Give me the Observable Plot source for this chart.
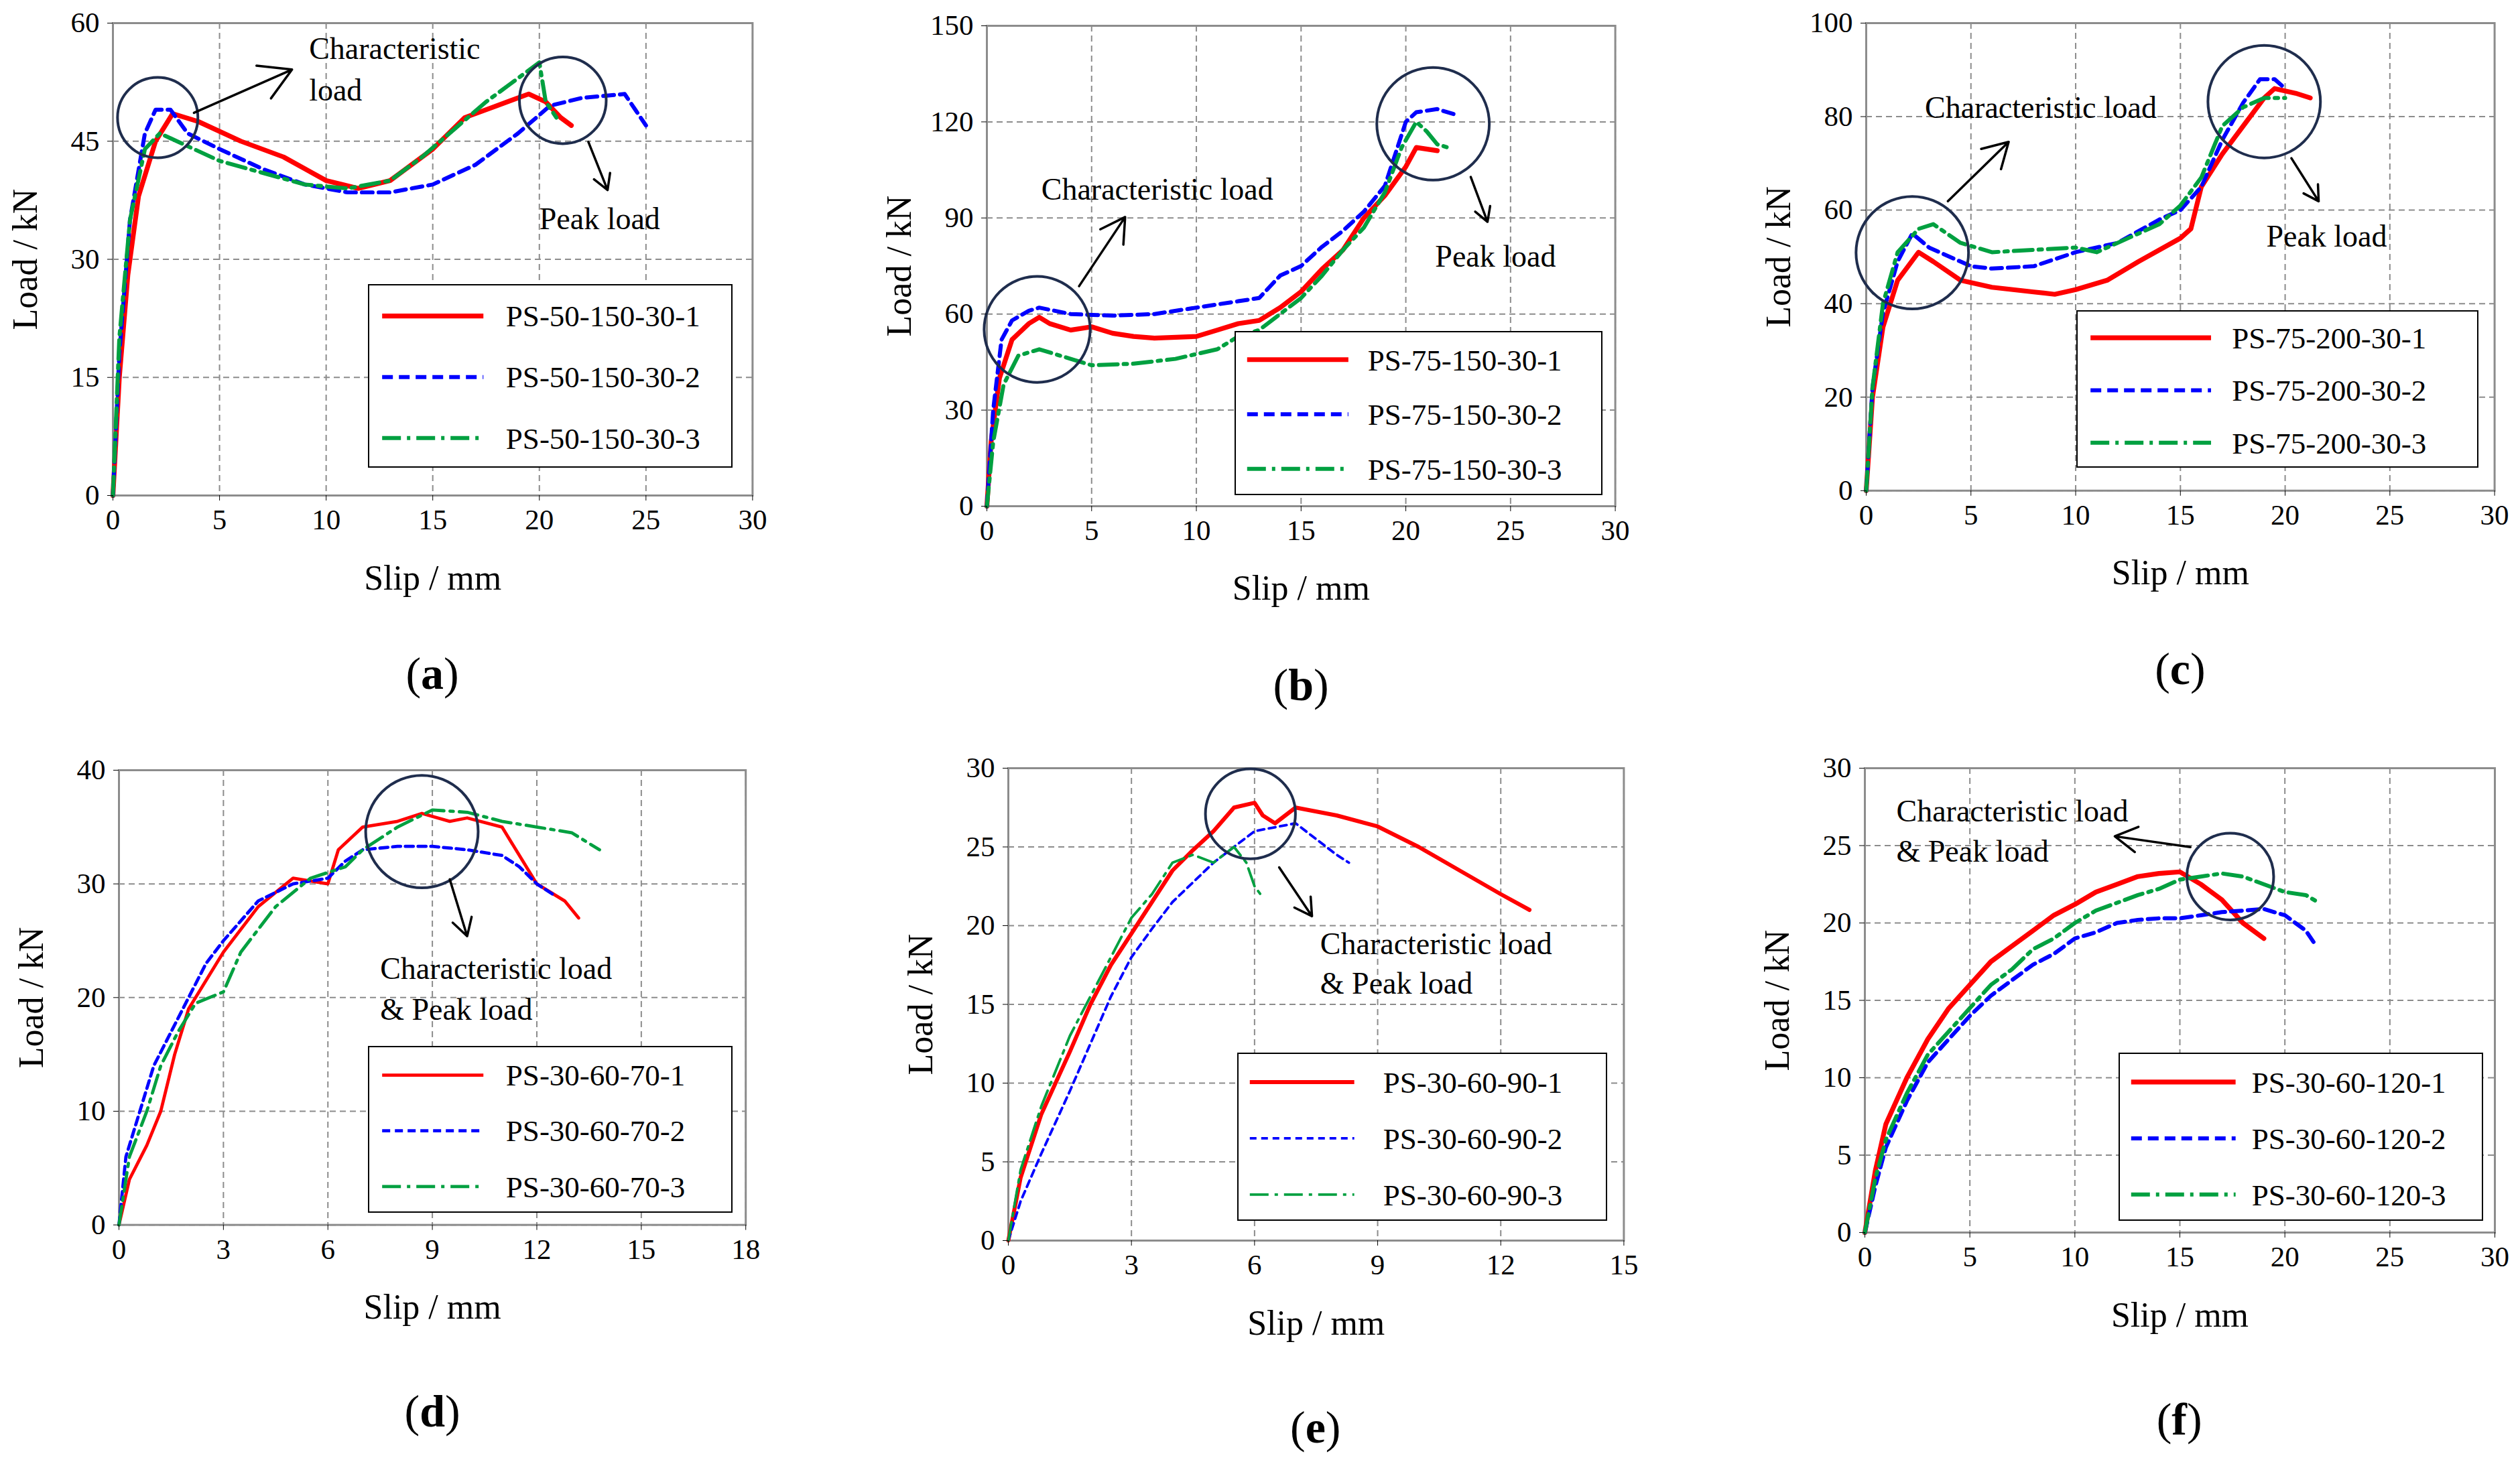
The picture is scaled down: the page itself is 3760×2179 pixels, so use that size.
<!DOCTYPE html>
<html><head><meta charset="utf-8">
<script src="https://cdn.jsdelivr.net/npm/d3@7"></script>
<script src="https://cdn.jsdelivr.net/npm/@observablehq/plot@0.6"></script>
<style>
body{margin:0;background:#fff;font-family:"Liberation Serif",serif;}
#root{position:relative;width:3760px;height:2179px;overflow:hidden;}
.pan{position:absolute;}
.leg{position:absolute;border:2.5px solid #000;background:#fff;box-sizing:border-box;}
.lab{position:absolute;font-size:68px;transform:translateX(-50%);}
</style></head><body><div id="root"></div>
<script>
const S = 2.398;
const seriesNames = {
 a:["PS-50-150-30-1","PS-50-150-30-2","PS-50-150-30-3"],
 b:["PS-75-150-30-1","PS-75-150-30-2","PS-75-150-30-3"],
 c:["PS-75-200-30-1","PS-75-200-30-2","PS-75-200-30-3"],
 d:["PS-30-60-70-1","PS-30-60-70-2","PS-30-60-70-3"],
 e:["PS-30-60-90-1","PS-30-60-90-2","PS-30-60-90-3"],
 f:["PS-30-60-120-1","PS-30-60-120-2","PS-30-60-120-3"]};
const a1=[[0,0],[0.3,15],[0.7,28],[1.2,38],[2,45],[2.8,48.5],[4,47.5],[6,45],[8,43],[10,40],[11.5,39],[13,40],[15,44],[16.5,48],[18,49.5],[19.5,51],[20.3,50],[21,48],[21.5,47]];
const a2=[[0,0],[0.3,18],[0.8,35],[1.5,46],[2,49],[2.7,49],[3.5,46],[5,44],[7,41.5],[9,39.5],[11,38.5],[13,38.5],[15,39.5],[17,42],[19,46],[20.5,49.5],[22,50.5],[24,51],[24.5,49],[25,47]];
const a3=[[0,0],[0.3,20],[0.8,35],[1.5,44],[2.2,46],[3,45],[5,42.5],[7,41],[9,39.5],[11,39],[13,40],[14.5,43],[16,46.5],[17.5,50],[19,53],[20,55],[20.3,50],[20.8,48]];
const b1=[[0,0],[0.2,20],[0.6,40],[1.2,52],[2,57],[2.5,59],[3,57],[4,55],[5,56],[6,54],[7,53],[8,52.5],[10,53],[11,55],[12,57],[13,58],[14,62],[15,67],[16,74],[17,80],[18,90],[19,97],[20,106],[20.5,112],[21.5,111]];
const b2=[[0,0],[0.3,30],[0.7,52],[1.2,58],[2,61],[2.5,62],[4,60],[6,59.5],[8,60],[10,62],[12,64],[13,65],[14,72],[15,75],[16,81],[17,86],[18,92],[19,100],[19.5,110],[20,120],[20.5,123],[21.5,124],[22.5,122]];
const b3=[[0,0],[0.3,20],[0.8,38],[1.5,47],[2.5,49],[4,46],[5,44],[7,44.5],[9,46],[11,49],[12,53],[13,55],[14,60],[15,65],[16,72],[17,80],[18,87],[19,98],[19.8,112],[20.5,120],[21,117],[21.5,113],[22,112]];
const c1=[[0,0],[0.3,20],[0.8,35],[1.5,45],[2.5,51],[3.2,49],[4.5,45],[6,43.5],[8,42.5],[9,42],[10,43],[11.5,45],[13,49],[15,54],[15.5,56],[16,65],[17,72],[18,78],[19,84],[19.5,86],[20.5,85],[21.2,84]];
const c2=[[0,0],[0.3,22],[0.8,38],[1.5,49],[2.2,55],[3,52],[4,50],[5,48],[6,47.5],[8,48],[10,51],[12,53],[14,58],[15,60],[16,65],[17,75],[18,83],[18.8,88],[19.5,88],[20,86]];
const c3=[[0,0],[0.3,22],[0.8,40],[1.5,51],[2.5,56],[3.2,57],[4.5,53],[6,51],[8,51.5],[10,52],[11,51],[12,53],[14,57],[15,61],[16,67],[17,78],[18,82],[19,84],[20,84]];
const d1=[[0,0],[0.3,4],[0.8,7],[1.2,10],[1.6,15],[2,19],[3,24],[4,28],[5,30.5],[6,30],[6.3,33],[7,35],[8,35.5],[8.7,36.2],[9.5,35.5],[10,35.8],[11,35],[12,30],[12.8,28.5],[13.2,27]];
const d2=[[0,0],[0.2,6],[0.6,10],[1,14],[1.5,17],[2,20],[2.5,23],[3,25],[4,28.5],[5,30],[6,30.5],[6.5,32],[7,33],[8,33.3],[9,33.3],[10,33],[11,32.5],[11.5,31.5],[12,30],[12.5,29]];
const d3_=[[0,0],[0.3,6],[0.8,10],[1.2,14],[1.7,17],[2.2,19.5],[3,20.5],[3.5,24],[4.5,28],[5.5,30.5],[6.5,31.5],[7,33],[8,35],[9,36.5],[10,36.3],[11,35.5],[12,35],[13,34.5],[13.8,33]];
const e1=[[0,0],[0.3,4],[0.8,8],[1.5,12],[2,15],[2.5,17.5],[3,19.5],[3.5,21.5],[4,23.5],[4.5,24.8],[5,26],[5.5,27.5],[6,27.8],[6.2,27],[6.5,26.5],[7,27.5],[8,27],[9,26.3],[10,25],[11,23.5],[12,22],[12.7,21]];
const e2=[[0,0],[0.3,2.5],[0.8,5.5],[1.5,9.5],[2,12.5],[2.5,15.5],[3,18],[3.5,19.8],[4,21.5],[5,24],[6,26],[7,26.5],[7.5,25.5],[8,24.5],[8.3,24]];
const e3=[[0,0],[0.3,4.5],[0.8,8.5],[1.5,13],[2,15.5],[2.5,18],[3,20.5],[3.5,22],[4,24],[4.5,24.5],[5,24],[5.5,25],[5.8,24],[6,22.5],[6.2,21.8]];
const f1=[[0,0],[0.5,4],[1,7],[2,10],[3,12.5],[4,14.5],[5,16],[6,17.5],[7,18.5],[8,19.5],[9,20.5],[10,21.2],[11,22],[12,22.5],[13,23],[14,23.2],[15,23.3],[16,22.5],[17,21.5],[18,20],[19,19]];
const f2=[[0,0],[0.5,3],[1,5.5],[2,8.5],[3,11],[4,12.5],[5,14],[6,15.3],[7,16.3],[8,17.3],[9,18],[10,19],[11,19.4],[12,20],[13,20.2],[14,20.3],[15,20.3],[16,20.5],[17,20.7],[18,20.8],[19,20.9],[20,20.5],[20.5,20],[21,19.5],[21.5,18.5]];
const f3=[[0,0],[0.5,3.5],[1,6],[2,9],[3,11.5],[4,13],[5,14.5],[6,16],[7,17],[8,18.3],[9,19],[10,20],[11,20.8],[12,21.3],[13,21.8],[14,22.2],[15,22.8],[16,23],[17,23.2],[18,23],[19,22.5],[20,22],[21,21.8],[21.5,21.4]];
const xTicks={a:[0,5,10,15,20,25,30],b:[0,5,10,15,20,25,30],c:[0,5,10,15,20,25,30],d:[0,3,6,9,12,15,18],e:[0,3,6,9,12,15],f:[0,5,10,15,20,25,30]};
const yTicks={a:[0,15,30,45,60],b:[0,30,60,90,120,150],c:[0,20,40,60,80,100],d:[0,10,20,30,40],e:[0,5,10,15,20,25,30],f:[0,5,10,15,20,25,30]};
const data={a:[a1,a2,a3],b:[b1,b2,b3],c:[c1,c2,c3],d:[d1,d2,d3_],e:[e1,e2,e3],f:[f1,f2,f3]};
const L={
 a:{p:[70,468,14,308],lg:[229,456,177,291],ll:[237,300,314],lw:[3,2.5,2.5],blueDash:"16,9"},
 b:{p:[614,1005,16,315],lg:[768,997,206,308],ll:[775,838,850],lw:[3,2.5,2.5],blueDash:"16,9"},
 c:{p:[1161,1552,14,305],lg:[1292,1542,193,291],ll:[1300,1375,1388],lw:[3,2.5,2.5],blueDash:"16,9"},
 d:{p:[74,464,479,762],lg:[229,456,651,755],ll:[237,300,314],lw:[2,2,2],blueDash:"12,7"},
 e:{p:[627,1010,478,772],lg:[770,1000,655,760],ll:[777,842,860],lw:[2.5,1.6,1.6],blueDash:"10,7"},
 f:{p:[1160,1552,478,767],lg:[1318,1545,655,760],ll:[1325,1390,1400],lw:[3,2.5,2.5],blueDash:"16,9"}};
const ann={
 a:{c:[[2.1,48,25],[21.1,50.2,27]],ar:[[3.8,48.6,8.4,54.1],[22.3,44.9,23.2,38.8]],t:[[9.2,56.7,"Characteristic"],[9.2,51.4,"load"],[20,35.1,"Peak load"]]},
 b:{c:[[2.4,55.2,33],[21.3,119.4,35]],ar:[[4.4,68.7,6.6,90.3],[23.1,102.8,23.9,88.8]],t:[[2.6,98.8,"Characteristic load"],[21.4,77.8,"Peak load"]]},
 c:{c:[[2.2,50.9,35],[19,83.2,35]],ar:[[3.9,61.9,6.8,74.6],[20.3,71.1,21.6,61.9]],t:[[2.8,81.8,"Characteristic load"],[19.1,54.3,"Peak load"]]},
 d:{c:[[8.7,34.6,35]],ar:[[9.5,30.4,10,25.4]],t:[[7.5,22.5,"Characteristic load"],[7.5,18.9,"& Peak load"]]},
 e:{c:[[5.9,27.1,28]],ar:[[6.6,23.7,7.4,20.6]],t:[[7.6,18.8,"Characteristic load"],[7.6,16.3,"& Peak load"]]},
 f:{c:[[17.4,23,27]],ar:[[15.5,24.9,11.9,25.6]],t:[[1.5,27.2,"Characteristic load"],[1.5,24.6,"& Peak load"]]}};
const colors=["#ff0000","#0000ff","#00a040"];
const dashes=k=>[null,L[k].blueDash,"28,9,5,9"];
const root=document.getElementById("root");
const ML=190,MR=30,MT=30,MB=170;
for(const k of "abcdef"){
 const [px0,px1,py0,py1]=L[k].p;
 const W=(px1-px0)*S, H=(py1-py0)*S;
 const xt=xTicks[k], yt=yTicks[k];
 const marks=[
  Plot.gridX(xt,{stroke:"#8c8c8c",strokeOpacity:1,strokeDasharray:"9,6",strokeWidth:2}),
  Plot.gridY(yt,{stroke:"#8c8c8c",strokeOpacity:1,strokeDasharray:"9,6",strokeWidth:2}),
  Plot.frame({stroke:"#8c8c8c",strokeWidth:3}),
 ];
 data[k].forEach((d,i)=>marks.push(Plot.line(d,{x:"0",y:"1",stroke:colors[i],strokeWidth:L[k].lw[i]*S,strokeDasharray:dashes(k)[i]})));
 const A=ann[k];
 marks.push(Plot.dot(A.c,{x:"0",y:"1",r:d=>d[2]*S,stroke:"#1f2d4d",strokeWidth:4,fill:"none"}));
 marks.push(Plot.arrow(A.ar,{x1:"0",y1:"1",x2:"2",y2:"3",stroke:"#000",strokeWidth:3.5,headLength:30}));
 marks.push(Plot.text(A.t,{x:"0",y:"1",text:"2",textAnchor:"start",fontSize:46,fill:"#000"}));
 marks.push(Plot.axisX(xt,{tickSize:8,fontSize:43,label:"Slip / mm",labelAnchor:"center",labelOffset:140,labelArrow:"none",tickPadding:12}));
 marks.push(Plot.axisY(yt,{tickSize:8,fontSize:43,label:"Load / kN",labelAnchor:"center",labelOffset:150,labelArrow:"none",tickPadding:12}));
 const svg=Plot.plot({width:W+ML+MR,height:H+MT+MB,marginLeft:ML,marginRight:MR,marginTop:MT,marginBottom:MB,
  x:{domain:[xt[0],xt[xt.length-1]]},y:{domain:[yt[0],yt[yt.length-1]]},r:{type:"identity"},
  style:{fontFamily:"Liberation Serif",fontSize:"43px",color:"#000",background:"transparent",overflow:"visible"},marks});
 svg.querySelectorAll("g[aria-label='x-axis label'], g[aria-label='y-axis label']").forEach(e=>e.setAttribute("font-size","52"));
 const div=document.createElement("div");div.className="pan";
 div.style.left=(px0*S-ML)+"px";div.style.top=(py0*S-MT)+"px";div.appendChild(svg);root.appendChild(div);
 const [lx0,lx1,ly0,ly1]=L[k].lg, [lr0,lr1,lt]=L[k].ll;
 const lg=document.createElement("div");lg.className="leg";
 lg.style.left=lx0*S+"px";lg.style.top=ly0*S+"px";lg.style.width=(lx1-lx0)*S+"px";lg.style.height=(ly1-ly0)*S+"px";
 const lsv=d3.create("svg").attr("width",(lx1-lx0)*S).attr("height",(ly1-ly0)*S).style("display","block");
 const rowH=(ly1-ly0)*S/3;
 seriesNames[k].forEach((n,i)=>{
  const y=rowH*(i+0.5);
  lsv.append("line").attr("x1",(lr0-lx0)*S).attr("x2",(lr1-lx0)*S).attr("y1",y).attr("y2",y)
   .attr("stroke",colors[i]).attr("stroke-width",L[k].lw[i]*S).attr("stroke-dasharray",dashes(k)[i]);
  lsv.append("text").attr("x",(lt-lx0)*S).attr("y",y).attr("dy","0.35em").attr("font-size",45)
   .attr("font-family","Liberation Serif").text(n);
 });
 lg.appendChild(lsv.node());root.appendChild(lg);
 const lab=document.createElement("div");lab.className="lab";
 const cx=(px0+px1)/2*S, ly=(py1+ (k<"d"?95:100))*S;
 lab.style.left=cx+"px";lab.style.top=ly+"px";lab.innerHTML="(<b>"+k+"</b>)";
 root.appendChild(lab);
}
</script></body></html>
